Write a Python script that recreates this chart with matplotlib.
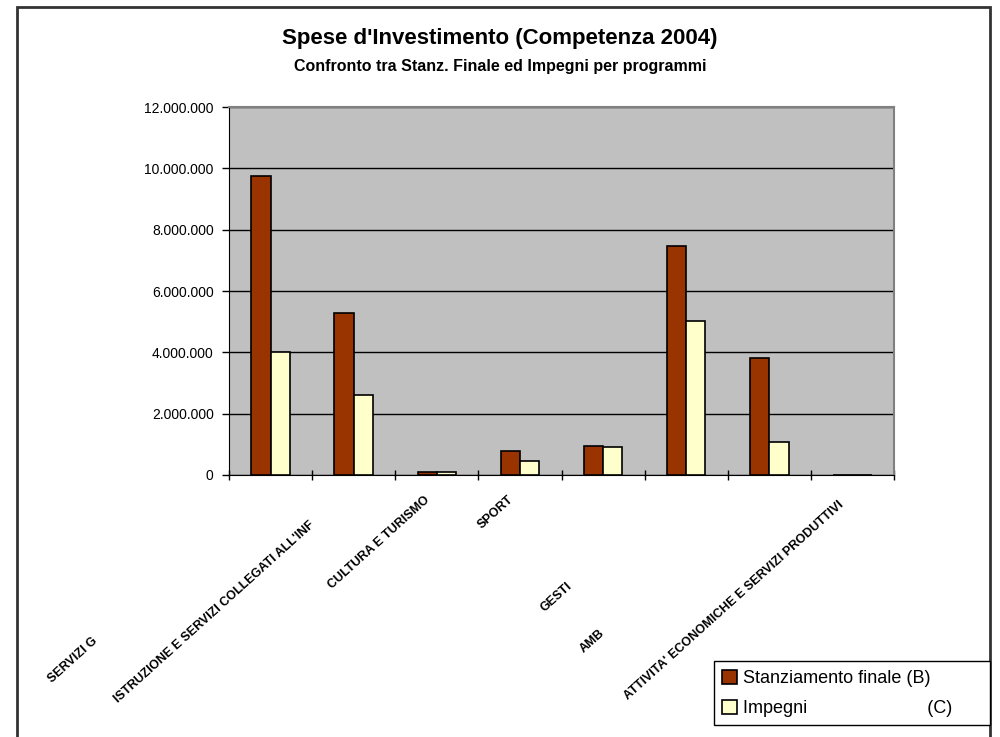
import numpy as np
import matplotlib.pyplot as plt
from matplotlib.patches import Patch, Rectangle

# programmi (le etichette sono tagliate come nell'originale)
programmi = ["SERVIZI G",
             "ISTRUZIONE E SERVIZI COLLEGATI ALL'INF",
             "CULTURA E TURISMO",
             "SPORT",
             "GESTI",
             "AMB",
             "ATTIVITA' ECONOMICHE E SERVIZI PRODUTTIVI",
             ""]
stanziamento = [9740000, 5280000, 110000, 780000, 960000, 7480000, 3830000, 0]
impegni = [4000000, 2600000, 100000, 460000, 900000, 5030000, 1080000, 0]
yticks = [0, 2000000, 4000000, 6000000, 8000000, 10000000, 12000000]

# spostamento in pixel della fine di ogni etichetta rispetto al centro della categoria
label_offsets = [(-175, -165), (-41, -48), (-9, -23), (-8, -23),
                 (-33, -110), (-83, -157), (73, -28), (0, 0)]

plt.rcParams['font.family'] = ['Liberation Sans', 'DejaVu Sans']

fig = plt.figure(figsize=(10, 7.37), dpi=100)
fig.patches.append(Rectangle((0.017, -0.01), 0.973, 1.0, transform=fig.transFigure,
                             fill=False, edgecolor='#333333', linewidth=2))

ax = fig.add_axes([0.229, 0.3555, 0.665, 0.4993])
ax.set_facecolor('#C0C0C0')

x = np.arange(len(programmi))
w = 0.232
ax.bar(x - w / 2, stanziamento, w, color='#993300', edgecolor='black', linewidth=1.2, zorder=3)
ax.bar(x + w / 2, impegni, w, color='#FFFFCC', edgecolor='black', linewidth=1.2, zorder=3)

ax.set_xlim(-0.5, len(programmi) - 0.5)
ax.set_ylim(0, 12000000)
ax.set_yticks(yticks)
ax.set_yticklabels([f"{v:,}".replace(",", ".") for v in yticks], fontsize=10)
ax.yaxis.grid(True, color='black', linewidth=1, zorder=1)
ax.tick_params(axis='y', direction='out', length=5, width=1, pad=6)

ax.set_xticks(x)
ax.set_xticklabels([])
ax.tick_params(axis='x', which='major', length=0)
ax.set_xticks(np.arange(-0.5, len(programmi)), minor=True)
ax.tick_params(axis='x', which='minor', direction='inout', length=7, width=1)

for s in ['left', 'bottom']:
    ax.spines[s].set_color('black')
for s in ['top', 'right']:
    ax.spines[s].set_color('#808080')
    ax.spines[s].set_linewidth(1.5)

for i, lab in enumerate(programmi):
    dx, dy = label_offsets[i]
    ax.annotate(lab, xy=(i, 0), xycoords='data', xytext=(dx, dy), textcoords='offset pixels',
                rotation=42, rotation_mode='anchor', ha='right', va='center',
                fontsize=9, fontweight='bold', annotation_clip=False)

fig.text(0.5, 0.948, "Spese d'Investimento (Competenza 2004)", ha='center', va='center',
         fontsize=16, fontweight='bold')
fig.text(0.5, 0.91, "Confronto tra Stanz. Finale ed Impegni per programmi", ha='center',
         va='center', fontsize=11.5, fontweight='bold')

handles = [Patch(facecolor='#993300', edgecolor='black', linewidth=1.2),
           Patch(facecolor='#FFFFCC', edgecolor='black', linewidth=1.2)]
leg = fig.legend(handles, ["Stanziamento finale (B)", "Impegni                        (C)"],
                 loc='lower left', bbox_to_anchor=(0.714, 0.016, 0.276, 0.099), mode='expand',
                 fontsize=13, frameon=True, fancybox=False, edgecolor='black', framealpha=1,
                 handlelength=0.85, handleheight=0.85, handletextpad=0.3, labelspacing=0.7,
                 borderpad=0.45, borderaxespad=0)
leg.get_frame().set_linewidth(1)

fig.savefig('out.png', dpi=100)
